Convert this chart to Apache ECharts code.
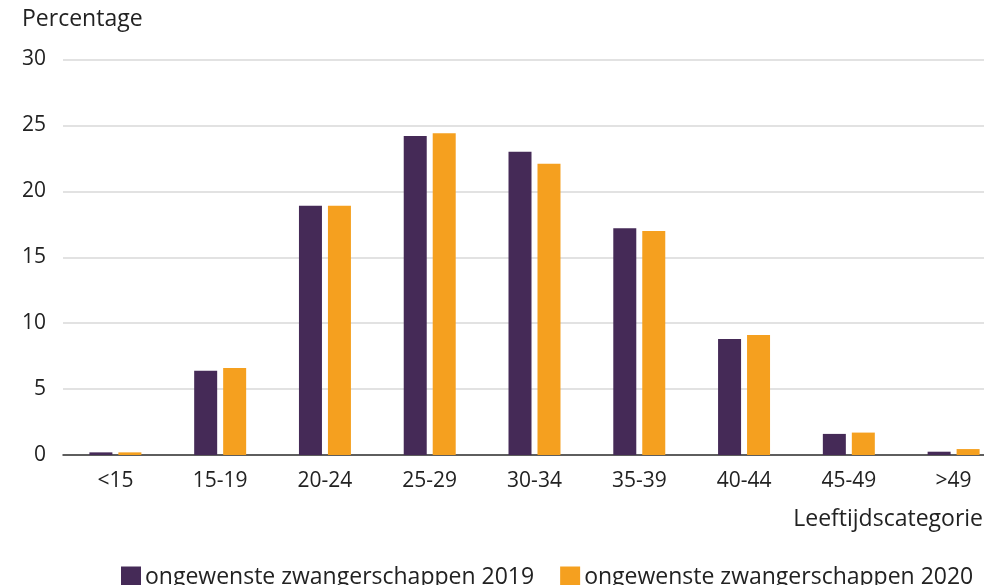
<!DOCTYPE html>
<html>
<head>
<meta charset="utf-8">
<script src="https://cdn.jsdelivr.net/npm/echarts@6/dist/echarts.min.js"></script>
<style>
  html, body { margin: 0; padding: 0; background: #fff; overflow: hidden; }
  /* de grafiek loopt rechts iets buiten het beeld, net als het origineel */
  #chart { width: 1006px; height: 585px; }
</style>
</head>
<body>
<div id="chart"></div>
<script>
// leeftijdscategorieen
const categories = ["<15", "15-19", "20-24", "25-29", "30-34", "35-39", "40-44", "45-49", ">49"];
// percentages per jaar
const values2019 = [0.2, 6.4, 18.9, 24.2, 23.0, 17.2, 8.8, 1.6, 0.25];
const values2020 = [0.2, 6.6, 18.9, 24.4, 22.1, 17.0, 9.1, 1.7, 0.45];
const seriesNames = ["ongewenste zwangerschappen 2019", "ongewenste zwangerschappen 2020"];
const yTicks = [0, 5, 10, 15, 20, 25, 30];

const FONT = "Open Sans";
const myChart = echarts.init(document.getElementById("chart"));

let option = {
  animation: false,
  color: ["#452a57", "#f5a01f"],
  textStyle: { fontFamily: FONT, color: "#222" },
  title: {
    text: "Percentage",
    left: 17,
    top: 3,
    textStyle: { fontFamily: FONT, fontSize: 23, fontWeight: "normal", color: "#222" }
  },
  graphic: [
    {
      type: "text",
      right: 23,
      top: 508,
      style: { text: "Leeftijdscategorie", fontFamily: FONT, fontSize: 23, fill: "#222" }
    }
  ],
  legend: {
    data: seriesNames,
    left: 116,
    top: 561,
    itemWidth: 20,
    itemHeight: 22,
    itemGap: 26,
    icon: "rect",
    textStyle: { fontFamily: FONT, fontSize: 23, color: "#222", padding: [0, 0, 0, -1] }
  },
  grid: {
    left: 63,
    top: 59.5,
    right: 0,
    height: 395.5,
    containLabel: false
  },
  xAxis: {
    type: "category",
    data: categories,
    axisLine: { show: true, lineStyle: { color: "#333", width: 1.5 } },
    axisTick: { show: false },
    axisLabel: { fontFamily: FONT, fontSize: 21, color: "#222", margin: 16 }
  },
  yAxis: {
    type: "value",
    min: 0,
    max: yTicks[yTicks.length - 1],
    interval: 5,
    axisLine: { show: false },
    axisTick: { show: false },
    axisLabel: { fontFamily: FONT, fontSize: 21, color: "#222", margin: 17 },
    splitLine: { lineStyle: { color: "#d9d9d9", width: 1.5 } }
  },
  series: [
    {
      name: seriesNames[0],
      type: "bar",
      data: values2019,
      barWidth: 23,
      barGap: "26%"
    },
    {
      name: seriesNames[1],
      type: "bar",
      data: values2020,
      barWidth: 23,
      barGap: "26%"
    }
  ]
};
option && myChart.setOption(option);
</script>
</body>
</html>
